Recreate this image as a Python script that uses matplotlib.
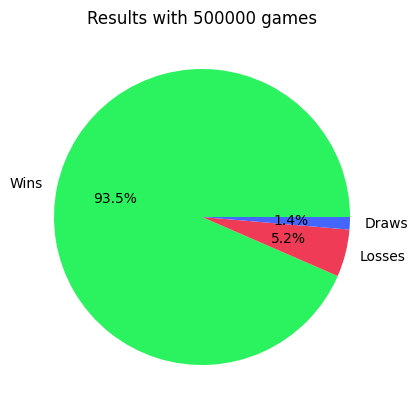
import matplotlib
matplotlib.use("Agg")
import matplotlib.pyplot as plt

labels = ["Wins", "Losses", "Draws"]
values = [93.48, 5.17, 1.36]
colors = ["#2bf25f", "#ef3b56", "#4466ff"]

fig = plt.figure(figsize=(4.18, 4.11), dpi=100)
ax = fig.add_axes([17/418, 9/411, 370/418, 370/411])
ax.pie(values, labels=labels, colors=colors, autopct="%1.1f%%")
ax.set_title("Results with 500000 games")
fig.savefig("out.png", dpi=100)
